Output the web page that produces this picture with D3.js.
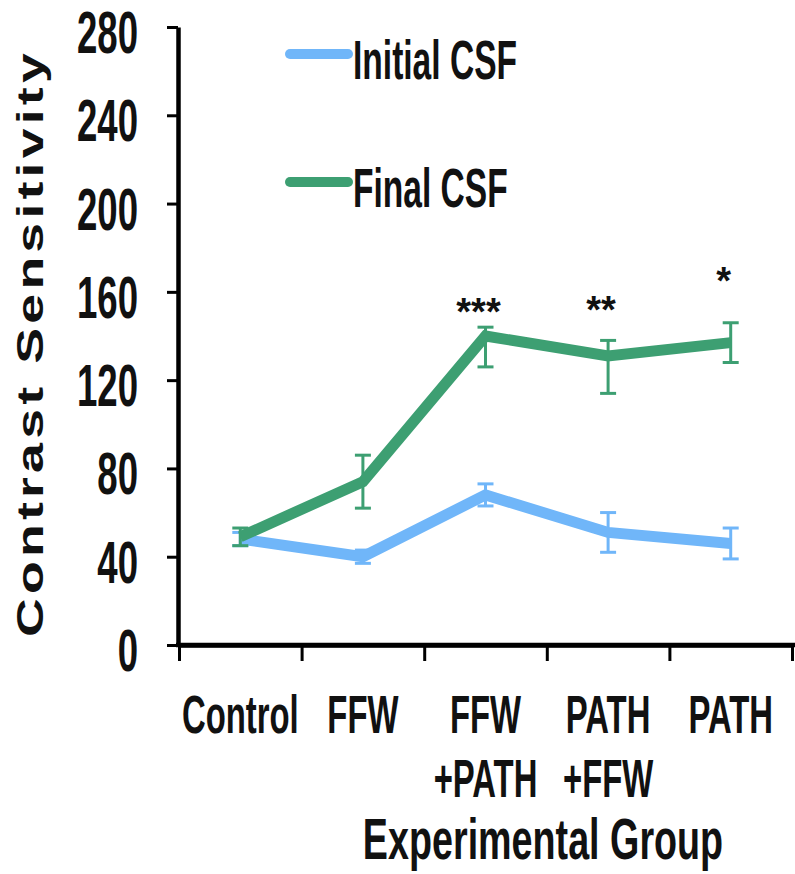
<!DOCTYPE html>
<html>
<head>
<meta charset="utf-8">
<script src="https://cdn.jsdelivr.net/npm/d3@7"></script>
<style>
  html, body { margin: 0; padding: 0; background: #fff; }
  svg { display: block; }
  text { font-family: "Liberation Sans", Arial, Helvetica, sans-serif; fill: #111; }
</style>
</head>
<body>
<div id="chart"></div>
<script>
// Contrast sensitivity per experimental group, before and after training
const groups = ["Control", "FFW", "FFW +PATH", "PATH +FFW", "PATH"];
const groupLabelLines = [["Control"], ["FFW"], ["FFW", "+PATH"], ["PATH", "+FFW"], ["PATH"]];
const seriesNames = ["Initial CSF", "Final CSF"];

const initialCSF = [48, 40, 68, 51, 46];
const initialErr = [3, 3, 5, 9, 7];

const finalCSF = [49, 74, 140, 131, 137];
const finalErrUp = [4, 12, 4, 7, 9];
const finalErrDown = [4, 12, 14, 17, 9];

// significance of the final vs initial difference, and the height it is written at
const significance = ["", "", "***", "**", "*"];
const significanceAt = [null, null, 155, 156, 169];

const yTicks = [0, 40, 80, 120, 160, 200, 240, 280];

const W = 795, H = 874;
const colors = { initial: "#70b6f9", final: "#3d9f72" };

const svg = d3.select("#chart").append("svg")
  .attr("width", W).attr("height", H);

const y = d3.scaleLinear().domain([0, 280]).range([645, 27]);
const xBand = d3.scaleBand().domain(groups).range([179, 792]);
const xEdge = d3.scaleLinear().domain([0, groups.length]).range([179, 792]);
const cx = g => xBand(g) + xBand.bandwidth() / 2;

// y axis
const yAxis = svg.append("g")
  .attr("transform", "translate(178,0)")
  .call(d3.axisLeft(y).tickValues(yTicks).tickSize(11).tickSizeOuter(0).tickFormat(""));
yAxis.select(".domain").attr("stroke", "#000").attr("stroke-width", 4.5);
yAxis.selectAll(".tick line").attr("stroke", "#000").attr("stroke-width", 3);

// x axis: ticks mark the boundaries between groups
const xAxis = svg.append("g")
  .attr("transform", "translate(0,645)")
  .call(d3.axisBottom(xEdge).tickValues(d3.range(groups.length + 1)).tickSize(16).tickSizeOuter(0).tickFormat(""));
xAxis.select(".domain").attr("stroke", "#000").attr("stroke-width", 4.5);
xAxis.selectAll(".tick line").attr("stroke", "#000").attr("stroke-width", 3);
svg.append("line")
  .attr("x1", 176).attr("x2", W).attr("y1", 645).attr("y2", 645)
  .attr("stroke", "#000").attr("stroke-width", 4.5);

// y tick labels (condensed)
svg.append("g").selectAll("g")
  .data(yTicks).join("g")
  .attr("transform", d => `translate(138,${y(d) + 26}) scale(0.61,1)`)
  .append("text")
  .attr("text-anchor", "end")
  .attr("font-size", 60)
  .attr("font-weight", "bold")
  .text(d => d);

// x group labels
groups.forEach((g, i) => {
  groupLabelLines[i].forEach((ln, j) => {
    svg.append("g")
      .attr("transform", `translate(${cx(g)},${733 + j * 64}) scale(0.62,1)`)
      .append("text")
      .attr("text-anchor", "middle")
      .attr("font-size", 53)
      .attr("font-weight", "bold")
      .text(ln);
  });
});

// axis titles
svg.append("g")
  .attr("transform", "translate(543,859) scale(0.65,1)")
  .append("text")
  .attr("text-anchor", "middle")
  .attr("font-size", 58)
  .attr("font-weight", "bold")
  .text("Experimental Group");

svg.append("g")
  .attr("transform", "translate(43,343) rotate(-90) scale(1.45,1)")
  .append("text")
  .attr("text-anchor", "middle")
  .attr("font-size", 37)
  .attr("font-weight", "bold")
  .attr("letter-spacing", 2.9)
  .text("Contrast Sensitivity");

// series
const series = [
  { name: seriesNames[0], values: initialCSF, up: initialErr, down: initialErr, color: colors.initial },
  { name: seriesNames[1], values: finalCSF, up: finalErrUp, down: finalErrDown, color: colors.final }
];

const line = d3.line().x((d, i) => cx(groups[i])).y(d => y(d));

series.forEach(s => {
  const g = svg.append("g");
  // error bars
  const eb = g.selectAll("g.err").data(s.values).join("g").attr("class", "err");
  eb.append("line")
    .attr("x1", (d, i) => cx(groups[i])).attr("x2", (d, i) => cx(groups[i]))
    .attr("y1", (d, i) => y(d + s.up[i])).attr("y2", (d, i) => y(d - s.down[i]))
    .attr("stroke", s.color).attr("stroke-width", 3);
  eb.append("line")
    .attr("x1", (d, i) => cx(groups[i]) - 8).attr("x2", (d, i) => cx(groups[i]) + 8)
    .attr("y1", (d, i) => y(d + s.up[i])).attr("y2", (d, i) => y(d + s.up[i]))
    .attr("stroke", s.color).attr("stroke-width", 3);
  eb.append("line")
    .attr("x1", (d, i) => cx(groups[i]) - 8).attr("x2", (d, i) => cx(groups[i]) + 8)
    .attr("y1", (d, i) => y(d - s.down[i])).attr("y2", (d, i) => y(d - s.down[i]))
    .attr("stroke", s.color).attr("stroke-width", 3);
  // mean line
  g.append("path")
    .datum(s.values)
    .attr("d", line)
    .attr("fill", "none")
    .attr("stroke", s.color)
    .attr("stroke-width", 11)
    .attr("stroke-linejoin", "miter")
    .attr("stroke-linecap", "butt");
});

// significance markers
svg.append("g").selectAll("text")
  .data(groups.map((g, i) => ({ g, s: significance[i], at: significanceAt[i] })).filter(d => d.s))
  .join("text")
  .attr("x", d => cx(d.g) - 7)
  .attr("y", d => y(d.at) + 0.58 * 38)
  .attr("text-anchor", "middle")
  .attr("font-size", 38)
  .attr("font-weight", "bold")
  .attr("fill", "#222")
  .text(d => d.s);

// legend
const legendY = [54, 182];
series.forEach((s, i) => {
  svg.append("line")
    .attr("x1", 290).attr("x2", 348)
    .attr("y1", legendY[i]).attr("y2", legendY[i])
    .attr("stroke", s.color).attr("stroke-width", 10)
    .attr("stroke-linecap", "round");
  svg.append("g")
    .attr("transform", `translate(353,${legendY[i] + 25}) scale(0.61,1)`)
    .append("text")
    .attr("font-size", 55)
    .attr("font-weight", "bold")
    .text(s.name);
});
</script>
</body>
</html>
